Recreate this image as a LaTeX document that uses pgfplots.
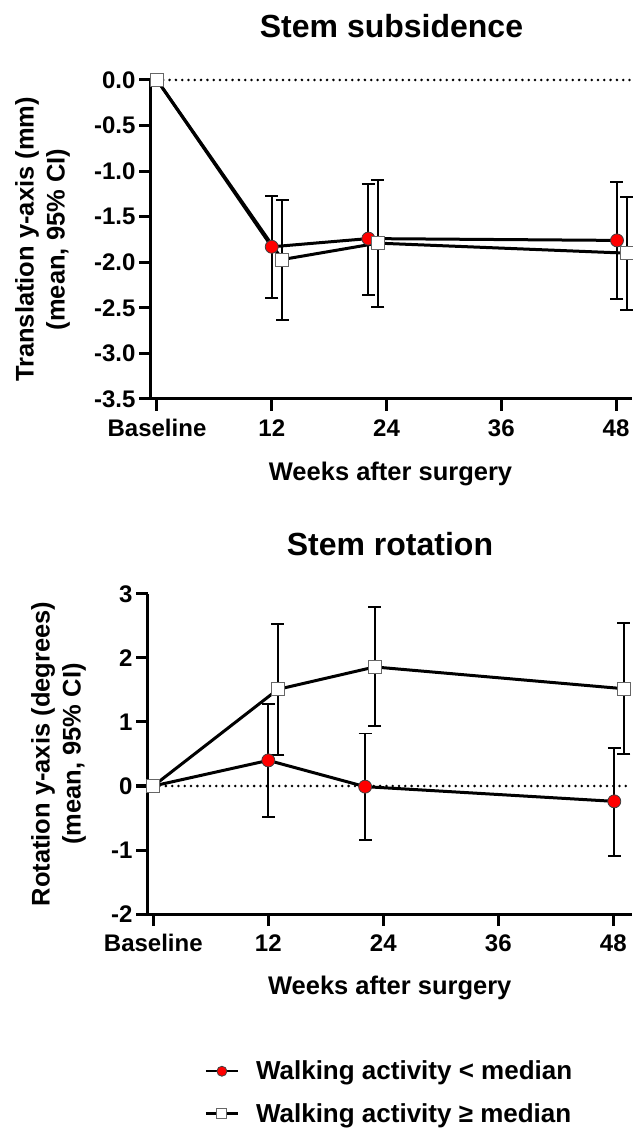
\documentclass[border=0pt]{standalone}
\usepackage{pgfplots}
\pgfplotsset{compat=1.18}
\usepackage{fontspec}
\setmainfont{Liberation Sans}

\pgfplotsset{
  gp/.style={
    scale only axis,
    axis x line=bottom, axis y line=left,
    axis line style={-, line width=3pt, black},
    tick align=outside,
    major tick length=12pt,
    tick style={line width=3pt, black},
    tick label style={font=\fontsize{24}{28}\selectfont\bfseries},
    xticklabel style={yshift=-5pt},
    /pgf/number format/assume math mode=true,
    label style={font=\fontsize{25.5}{31}\selectfont\bfseries},
    title style={font=\fontsize{32}{38}\selectfont\bfseries},
    xtick={0,12,24,36,48},
    xticklabels={Baseline,12,24,36,48},
    minor tick num=0,
    clip=false,
  },
  redser/.style={black, line width=3pt, mark=*, mark size=6.5pt,
    mark options={fill=red, draw=black!75, line width=0.8pt, solid},
    error bars/y dir=both, error bars/y explicit,
    error bars/error bar style={line width=1.9pt, black, solid},
    error bars/error mark options={rotate=90, line width=1.9pt, black, mark size=6.5pt, solid}},
  sqser/.style={black, line width=3pt, mark=square*, mark size=6.5pt,
    mark options={fill=white, draw=black!60, line width=1pt, solid},
    error bars/y dir=both, error bars/y explicit,
    error bars/error bar style={line width=1.9pt, black, solid},
    error bars/error mark options={rotate=90, line width=1.9pt, black, mark size=6.5pt, solid}},
  zeroline/.style={forget plot, black, line width=2.8pt, line cap=round, dash pattern=on 0pt off 6.3pt},
}

\begin{document}
\begin{tikzpicture}
\useasboundingbox (0,0) rectangle (632pt,1130pt);

% ---------------- Top: Stem subsidence ----------------
\begin{axis}[gp,
  at={(151pt,731pt)}, anchor=south west,
  width=481pt, height=319pt,
  xmin=-0.627, xmax=49.67,
  ymin=-3.5, ymax=0,
  ytick={-3.5,-3,-2.5,-2,-1.5,-1,-0.5,0},
  yticklabels={-3.5,-3.0,-2.5,-2.0,-1.5,-1.0,-0.5,0.0},
  title={Stem subsidence},
  title style={at={(axis description cs:0.5,1.113)}, anchor=base},
  xlabel={Weeks after surgery},
  xlabel style={at={(axis description cs:0.498,-0.254)}, anchor=base},
  ylabel={Translation y-axis (mm)\\(mean, 95\% CI)},
  ylabel style={at={(axis description cs:-0.2256,0.5)}, anchor=center, align=center},
]
\addplot[zeroline] coordinates {(0,0) (49.67,0)};
\addplot[redser] coordinates {
  (0,0) += (0,0) -= (0,0)
  (12.0,-1.83) += (0,0.56) -= (0,0.56)
  (22.1,-1.74) += (0,0.60) -= (0,0.62)
  (48.1,-1.76) += (0,0.645) -= (0,0.64)
};
\addplot[sqser] coordinates {
  (0,0) += (0,0) -= (0,0)
  (13.1,-1.97) += (0,0.65) -= (0,0.66)
  (23.1,-1.79) += (0,0.69) -= (0,0.70)
  (49.1,-1.90) += (0,0.62) -= (0,0.62)
};
\end{axis}

% ---------------- Bottom: Stem rotation ----------------
\begin{axis}[gp,
  at={(148pt,216pt)}, anchor=south west,
  width=484pt, height=320pt,
  xmin=-0.553, xmax=49.95,
  ymin=-2, ymax=3,
  ytick={-2,-1,0,1,2,3},
  yticklabels={-2,-1,0,1,2,3},
  title={Stem rotation},
  title style={at={(axis description cs:0.5,1.100)}, anchor=base},
  xlabel={Weeks after surgery},
  xlabel style={at={(axis description cs:0.4995,-0.253)}, anchor=base},
  ylabel={Rotation y-axis (degrees)\\(mean, 95\% CI)},
  ylabel style={at={(axis description cs:-0.185,0.5)}, anchor=center, align=center},
  legend style={at={(axis description cs:0.117,-0.459)}, anchor=north west,
    draw=none, fill=none, inner sep=0pt,
    font=\fontsize{26}{30}\selectfont\bfseries,
    nodes={inner sep=0pt}, cells={anchor=west}, row sep=22pt,
    /tikz/every odd column/.append style={column sep=17pt}},
  legend image code/.code={\draw[mark repeat=2,mark phase=2,line width=2.2pt,mark size=5pt] plot coordinates {(0pt,0pt) (16pt,0pt) (32pt,0pt)};},
]
\addplot[zeroline] coordinates {(0,0) (49.95,0)};
\addplot[redser] coordinates {
  (0,0) += (0,0) -= (0,0)
  (12.0,0.40) += (0,0.88) -= (0,0.88)
  (22.1,-0.01) += (0,0.83) -= (0,0.83)
  (48.1,-0.24) += (0,0.83) -= (0,0.85)
};
\addplot[sqser] coordinates {
  (0,0) += (0,0) -= (0,0)
  (13.0,1.51) += (0,1.02) -= (0,1.03)
  (23.1,1.86) += (0,0.94) -= (0,0.92)
  (49.1,1.52) += (0,1.02) -= (0,1.02)
};
\legend{Walking activity < median, Walking activity ≥ median}
\end{axis}
\end{tikzpicture}
\end{document}
